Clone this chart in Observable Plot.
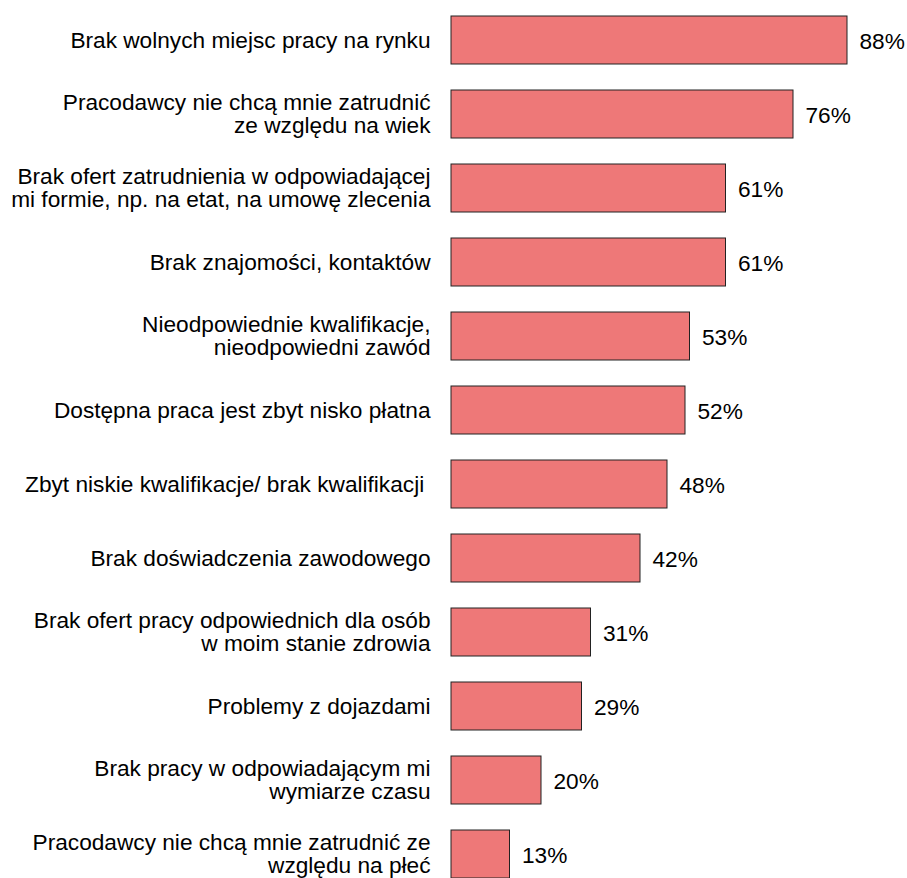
<!DOCTYPE html>
<html>
<head>
<meta charset="utf-8">
<script src="https://cdn.jsdelivr.net/npm/d3@7"></script>
<script src="https://cdn.jsdelivr.net/npm/@observablehq/plot@0.6"></script>
<style>
  html, body { margin: 0; padding: 0; background: #fff; }
  #chart svg { display: block; }
</style>
</head>
<body>
<div id="chart"></div>
<script>
const categories = [
  "Brak wolnych miejsc pracy na rynku",
  "Pracodawcy nie chcą mnie zatrudnić\nze względu na wiek",
  "Brak ofert zatrudnienia w odpowiadającej\nmi formie, np. na etat, na umowę zlecenia",
  "Brak znajomości, kontaktów",
  "Nieodpowiednie kwalifikacje,\nnieodpowiedni zawód",
  "Dostępna praca jest zbyt nisko płatna",
  "Zbyt niskie kwalifikacje/ brak kwalifikacji ",
  "Brak doświadczenia zawodowego",
  "Brak ofert pracy odpowiednich dla osób\nw moim stanie zdrowia",
  "Problemy z dojazdami",
  "Brak pracy w odpowiadającym mi\nwymiarze czasu",
  "Pracodawcy nie chcą mnie zatrudnić ze\nwzględu na płeć"
];
const values = [88, 76, 61, 61, 53, 52, 48, 42, 31, 29, 20, 13];

const data = categories.map((c, i) => ({category: c, value: values[i]}));

const chart = Plot.plot({
  width: 907,
  height: 878,
  marginLeft: 451,
  marginRight: 6,
  marginTop: 0,
  marginBottom: 0,
  style: {fontFamily: "'Liberation Sans', Arial, sans-serif", fontSize: "22.67px", color: "#000", background: "#fff"},
  x: {domain: [0, 100], axis: null},
  y: {domain: categories, paddingInner: 0.353, paddingOuter: 0.0964, align: 1},
  marks: [
    Plot.barX(data, {x: "value", y: "category", fill: "#ee7878", stroke: "#222", strokeWidth: 1}),
    Plot.text(data, {x: "value", y: "category", text: d => d.value + "%", textAnchor: "start", dx: 12, dy: 1, fontSize: 22.67, fill: "#000"}),
    Plot.axisY({tickSize: 0, tickPadding: 21, fontSize: 22.67, lineHeight: 1.02, fill: "#000", label: null})
  ]
});
document.getElementById("chart").appendChild(chart);
</script>
</body>
</html>
